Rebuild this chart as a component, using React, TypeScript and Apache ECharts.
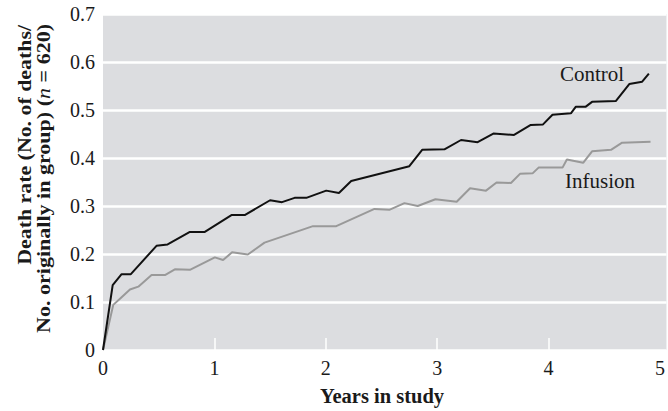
import React, { useEffect, useRef } from "react";
import * as echarts from "echarts";

const controlX = [0, 0.087, 0.167, 0.25, 0.48, 0.58, 0.78, 0.914, 1.153, 1.272, 1.5, 1.607, 1.72, 1.825, 2.004, 2.118, 2.228, 2.75, 2.865, 3.065, 3.214, 3.363, 3.504, 3.69, 3.84, 3.95, 4.035, 4.2, 4.245, 4.334, 4.39, 4.605, 4.724, 4.84, 4.9];
const controlY = [0, 0.135, 0.158, 0.158, 0.217, 0.22, 0.246, 0.246, 0.281, 0.281, 0.312, 0.308, 0.317, 0.317, 0.332, 0.327, 0.352, 0.383, 0.417, 0.418, 0.4375, 0.433, 0.451, 0.448, 0.469, 0.47, 0.49, 0.493, 0.507, 0.507, 0.517, 0.519, 0.554, 0.559, 0.576];

const infusionX = [0, 0.092, 0.167, 0.242, 0.317, 0.436, 0.556, 0.645, 0.78, 1.004, 1.078, 1.159, 1.3, 1.45, 1.885, 2.094, 2.437, 2.57, 2.706, 2.825, 2.984, 3.175, 3.295, 3.438, 3.533, 3.662, 3.743, 3.856, 3.91, 4.125, 4.164, 4.31, 4.39, 4.56, 4.66, 4.915];
const infusionY = [0, 0.094, 0.11, 0.126, 0.132, 0.156, 0.156, 0.168, 0.167, 0.193, 0.1875, 0.2035, 0.199, 0.2236, 0.258, 0.258, 0.294, 0.292, 0.306, 0.3, 0.314, 0.309, 0.337, 0.332, 0.349, 0.348, 0.367, 0.368, 0.38, 0.38, 0.397, 0.39, 0.414, 0.417, 0.432, 0.434];

const xTickLabels = [0, 1, 2, 3, 4, 5];
const xTickMarks = [1, 2, 3, 4];

const FONT = "'Liberation Serif', 'Times New Roman', serif";
const TITLE_SIZE = 18;
const LINE1 = "Death rate (No. of deaths/";
const LINE2A = "No. originally in group) (";
const LINE2N = "n";
const LINE2B = " = 620)";

function measure(font: string, text: string): number {
  const ctx = document.createElement("canvas").getContext("2d");
  if (!ctx) return text.length * 8;
  ctx.font = font;
  return ctx.measureText(text).width;
}

export default function App() {
  const ref = useRef<HTMLDivElement>(null);
  useEffect(() => {
    if (!ref.current) return;
    const bold = `bold ${TITLE_SIZE}px 'Liberation Serif'`;
    const ital = `italic ${TITLE_SIZE}px 'Liberation Serif'`;
    const w1 = measure(bold, LINE1);
    const w2 = measure(bold, LINE2A) + measure(ital, LINE2N) + measure(bold, LINE2B);
    const s1 = 240 / w1;
    const s2 = 309 / w2;

    const chart = echarts.init(ref.current, undefined, { renderer: "svg" });
    chart.setOption({
      animation: false,
      backgroundColor: "#ffffff",
      grid: { left: 103, top: 14, right: 0, bottom: 61, show: true, backgroundColor: "#dcdde0", borderWidth: 0 },
      xAxis: {
        type: "value",
        min: 0,
        max: 5.058,
        interval: 1,
        axisLine: { show: false },
        splitLine: { show: false },
        axisTick: { show: true, inside: true, length: 12, customValues: xTickMarks, lineStyle: { color: "#ffffff", width: 1.5 } },
        axisLabel: { customValues: xTickLabels, color: "#1a1a1a", fontFamily: FONT, fontSize: 20, margin: 8 },
      },
      yAxis: {
        type: "value",
        min: 0,
        max: 0.7,
        interval: 0.1,
        axisLine: { show: false },
        axisTick: { show: false },
        splitLine: { show: true, lineStyle: { color: "#ffffff", width: 2.5 } },
        axisLabel: {
          color: "#1a1a1a",
          fontFamily: FONT,
          fontSize: 20,
          margin: 8,
          formatter: (v: number) => (v === 0 ? "0" : v.toFixed(1)),
        },
      },
      series: [
        {
          type: "line",
          name: "Infusion",
          data: infusionX.map((x, i) => [x, infusionY[i]]),
          showSymbol: false,
          lineStyle: { color: "#999999", width: 2 },
        },
        {
          type: "line",
          name: "Control",
          data: controlX.map((x, i) => [x, controlY[i]]),
          showSymbol: false,
          lineStyle: { color: "#111111", width: 2 },
        },
      ],
      graphic: [
        { type: "text", x: 560, y: 74, style: { text: "Control", fontFamily: FONT, fontSize: 21, fill: "#1a1a1a", textVerticalAlign: "middle" } },
        { type: "text", x: 565, y: 181, style: { text: "Infusion", fontFamily: FONT, fontSize: 21, fill: "#1a1a1a", textVerticalAlign: "middle" } },
        { type: "text", x: 382, y: 396, style: { text: "Years in study", fontFamily: FONT, fontSize: 20.5, fontWeight: "bold", fill: "#1a1a1a", textAlign: "center", textVerticalAlign: "middle" } },
        {
          type: "group",
          x: 25,
          y: 25,
          rotation: Math.PI / 2,
          children: [
            {
              type: "text",
              scaleX: s1,
              style: { text: LINE1, fontFamily: FONT, fontSize: TITLE_SIZE, fontWeight: "bold", fill: "#1a1a1a", textAlign: "right", textVerticalAlign: "middle" },
            },
          ],
        },
        {
          type: "group",
          x: 44,
          y: 24,
          rotation: Math.PI / 2,
          children: [
            {
              type: "text",
              scaleX: s2,
              style: {
                text: `{b|${LINE2A}}{i|${LINE2N}}{b|${LINE2B}}`,
                fontFamily: FONT,
                fontSize: TITLE_SIZE,
                fontWeight: "bold",
                fill: "#1a1a1a",
                textAlign: "right",
                textVerticalAlign: "middle",
                rich: {
                  b: { fontFamily: FONT, fontSize: TITLE_SIZE, fontWeight: "bold", fill: "#1a1a1a" },
                  i: { fontFamily: FONT, fontSize: TITLE_SIZE, fontWeight: "normal", fontStyle: "italic", fill: "#1a1a1a" },
                },
              },
            },
          ],
        },
      ],
    });
    return () => chart.dispose();
  }, []);
  return <div ref={ref} style={{ width: 668, height: 411, position: "fixed", left: 0, top: 0 }} />;
}
